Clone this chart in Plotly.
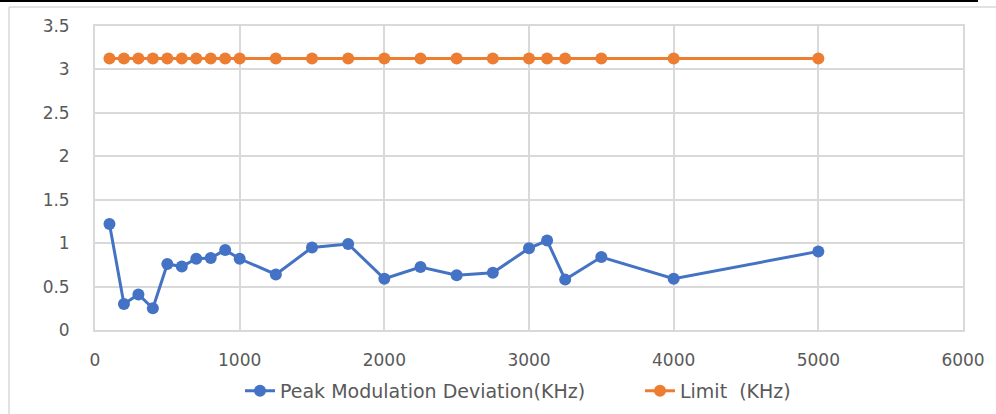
import plotly.graph_objects as go

freq = [100, 200, 300, 400, 500, 600, 700, 800, 900, 1000, 1250, 1500, 1750,
        2000, 2250, 2500, 2750, 3000, 3125, 3250, 3500, 4000, 5000]
peak_dev = [1.22, 0.30, 0.41, 0.25, 0.76, 0.73, 0.82, 0.83, 0.92, 0.82, 0.64, 0.95, 0.99,
            0.59, 0.725, 0.63, 0.66, 0.94, 1.03, 0.58, 0.84, 0.59, 0.905]
limit = [3.125] * len(freq)

x_ticks = [0, 1000, 2000, 3000, 4000, 5000, 6000]
y_ticks = [0, 0.5, 1, 1.5, 2, 2.5, 3, 3.5]
y_labels = ["0", "0.5", "1", "1.5", "2", "2.5", "3", "3.5"]

blue = "#4472C4"
orange = "#ED7D31"
grid = "#D9D9D9"
txt = "#595959"
font = "DejaVu Sans"

fig = go.Figure()
fig.add_trace(go.Scatter(x=freq, y=peak_dev, mode="lines+markers",
                         name="Peak Modulation Deviation(KHz)",
                         line=dict(color=blue, width=3),
                         marker=dict(color=blue, size=12)))
fig.add_trace(go.Scatter(x=freq, y=limit, mode="lines+markers",
                         name="Limit  (KHz)",
                         line=dict(color=orange, width=3),
                         marker=dict(color=orange, size=12)))

fig.update_layout(
    width=996, height=414,
    margin=dict(l=95, r=33, t=26, b=84, autoexpand=False),
    paper_bgcolor="white", plot_bgcolor="white",
    font=dict(family=font, color=txt, size=17),
    showlegend=True,
    legend=dict(orientation="h", x=(240 - 95) / 868, xanchor="left", y=-0.2, yanchor="middle",
                font=dict(size=19, color=txt), traceorder="normal", entrywidth=355),
    xaxis=dict(range=[0, 6000], tickvals=x_ticks, ticktext=[str(v) for v in x_ticks],
               automargin=False,
               showgrid=True, gridcolor=grid, gridwidth=1.8, zeroline=False,
               showline=True, linecolor=grid, linewidth=1.8, mirror=True,
               ticks="outside", ticklen=14, tickcolor="rgba(0,0,0,0)",
               tickfont=dict(size=17, color=txt)),
    yaxis=dict(range=[0, 3.5], tickvals=y_ticks, ticktext=y_labels,
               automargin=False,
               showgrid=True, gridcolor=grid, gridwidth=1.8, zeroline=False,
               showline=True, linecolor=grid, linewidth=1.8, mirror=True,
               ticks="outside", ticklen=20, tickcolor="rgba(0,0,0,0)",
               tickfont=dict(size=17, color=txt)),
    shapes=[
        dict(type="line", xref="paper", yref="paper", x0=-95/868, x1=(978-95)/868,
             y0=1 + 25/304, y1=1 + 25/304, line=dict(color="black", width=2)),
        dict(type="line", xref="paper", yref="paper", x0=-86/868, x1=1 + 33/868,
             y0=1 + 19/304, y1=1 + 19/304, line=dict(color=grid, width=1.5)),
        dict(type="line", xref="paper", yref="paper", x0=-86/868, x1=-86/868,
             y0=1 + 19/304, y1=-84/304, line=dict(color=grid, width=1.5)),
    ],
)

fig.write_html("out.html", config={"displayModeBar": False},
               post_script="document.body.style.margin='0';")
